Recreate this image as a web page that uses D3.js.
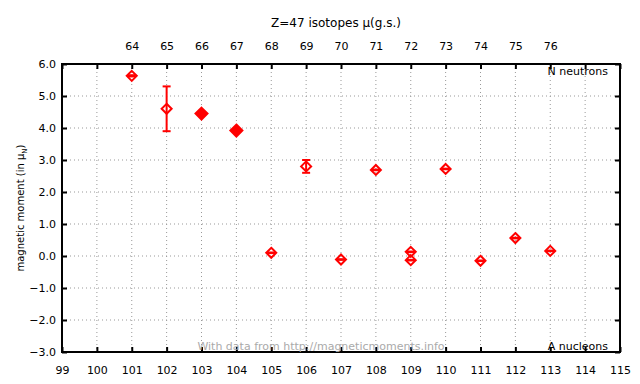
<!DOCTYPE html>
<meta charset="utf-8">
<style>
body {
    margin: 0px;
    background: white;
    overflow: hidden;
}
text {
    font-family: "DejaVu Sans", sans-serif;
    font-size: 11px;
}
.grid line {
    stroke: #999;
    stroke-width: 1px;
    stroke-dasharray: 1,3;
}
</style>
<body>
<script src="https://d3js.org/d3.v7.min.js"></script>
<script>
// Z=47 (silver) ground state magnetic moments
var massNumbers = [101, 102, 103, 104, 105, 106, 107, 108, 109, 109, 110, 111, 112, 113];
var moments     = [5.63, 4.6, 4.45, 3.92, 0.1, 2.8, -0.11, 2.69, 0.13, -0.13, 2.72, -0.15, 0.56, 0.16];
var errors      = [0.02, 0.7, 0.02, 0.02, 0.01, 0.2, 0.01, 0.01, 0.01, 0.01, 0.01, 0.01, 0.01, 0.01];
var solidPoints = [103, 104];

var bottomTicks = d3.range(99, 116);
var yTicks = d3.range(-3, 7);
var topTickPos = d3.range(101, 114);
var topTickLabels = ["64","65","66","67","68","69","70","71","72","73","74","75","76"];

var width = 640, height = 384;
var margin = {left: 62, right: 20, top: 64, bottom: 32};

var svg = d3.select("body").append("svg")
    .attr("width", width)
    .attr("height", height);

var x = d3.scaleLinear()
    .domain([99, 115])
    .range([margin.left, width - margin.right]);

var y = d3.scaleLinear()
    .domain([-3, 6])
    .range([height - margin.bottom, margin.top]);

// grid
var grid = svg.append("g").attr("class", "grid");
grid.selectAll(".gx")
    .data(bottomTicks.slice(1, -1))
    .enter().append("line")
    .attr("x1", d => x(d)).attr("x2", d => x(d))
    .attr("y1", y(6)).attr("y2", y(-3));
grid.selectAll(".gy")
    .data(yTicks.slice(1, -1))
    .enter().append("line")
    .attr("y1", d => y(d)).attr("y2", d => y(d))
    .attr("x1", x(99)).attr("x2", x(115));

// axes
var bottomAxis = d3.axisBottom(x).tickValues(bottomTicks).tickFormat(d3.format("d"))
    .tickSizeInner(-5).tickSizeOuter(0).tickPadding(14);
var topAxisMirror = d3.axisTop(x).tickValues(bottomTicks).tickFormat("")
    .tickSizeInner(-5).tickSizeOuter(0);
var topAxis = d3.axisTop(x).tickValues(topTickPos)
    .tickFormat((d, i) => topTickLabels[i])
    .tickSize(0).tickPadding(8);
var leftAxis = d3.axisLeft(y).tickValues(yTicks).tickFormat(d3.format(".1f"))
    .tickSizeInner(-5).tickSizeOuter(0).tickPadding(6);
var rightAxis = d3.axisRight(y).tickValues(yTicks).tickFormat("")
    .tickSizeInner(-5).tickSizeOuter(0);

function style(g) {
    g.select(".domain").remove();
    g.selectAll(".tick line").attr("stroke", "#000").attr("stroke-width", 2);
    g.selectAll("text").attr("fill", "#000").style("font-size", "11px")
        .style("font-family", "\"DejaVu Sans\", sans-serif");
}

svg.append("g").attr("transform", "translate(0," + y(-3) + ")").call(bottomAxis).call(style);
svg.append("g").attr("transform", "translate(0," + y(6) + ")").call(topAxisMirror).call(style);
svg.append("g").attr("transform", "translate(0," + (y(6) - 6) + ")").call(topAxis).call(style);
svg.append("g").attr("transform", "translate(" + x(99) + ",0)").call(leftAxis).call(style);
svg.append("g").attr("transform", "translate(" + x(115) + ",0)").call(rightAxis).call(style);

// frame
svg.append("rect")
    .attr("x", x(99)).attr("y", y(6))
    .attr("width", x(115) - x(99)).attr("height", y(-3) - y(6))
    .attr("fill", "none").attr("stroke", "#000").attr("stroke-width", 2);

// points
var pts = massNumbers.map((a, i) => ({a: a, mu: moments[i], err: errors[i], solid: solidPoints.indexOf(a) >= 0}));
var pg = svg.append("g").attr("stroke", "red").attr("stroke-width", 2).attr("fill", "none");

pts.forEach(function(d) {
    var cx = x(d.a), cy = y(d.mu);
    var top = y(d.mu + d.err), bot = y(d.mu - d.err);
    pg.append("line").attr("x1", cx).attr("x2", cx).attr("y1", top).attr("y2", bot);
    pg.append("line").attr("x1", cx - 4).attr("x2", cx + 4).attr("y1", top).attr("y2", top);
    pg.append("line").attr("x1", cx - 4).attr("x2", cx + 4).attr("y1", bot).attr("y2", bot);
    var r = d.solid ? 6 : 5;
    pg.append("path")
        .attr("d", "M" + cx + "," + (cy - r) + "L" + (cx + r) + "," + cy + "L" + cx + "," + (cy + r) + "L" + (cx - r) + "," + cy + "Z")
        .attr("fill", d.solid ? "red" : "none");
});

// labels
svg.append("text").attr("x", 336).attr("y", 27).attr("text-anchor", "middle")
    .style("font-size", "12px")
    .text("Z=47 isotopes μ(g.s.)");

var yl = svg.append("text").attr("transform", "translate(24," + 208 + ") rotate(-90)")
    .attr("text-anchor", "middle").style("font-size", "10px");
yl.append("tspan").text("magnetic moment (in μ");
yl.append("tspan").attr("dy", 3).style("font-size", "7px").text("N");
yl.append("tspan").attr("dy", -3).text(")");

svg.append("text").attr("x", 608).attr("y", 75).attr("text-anchor", "end").text("N neutrons");
svg.append("text").attr("x", 608).attr("y", 350).attr("text-anchor", "end").text("A nucleons");
svg.append("text").attr("x", 321).attr("y", 350).attr("text-anchor", "middle")
    .attr("fill", "#aaa").text("With data from http://magneticmoments.info");
</script>
</body>
</html>
